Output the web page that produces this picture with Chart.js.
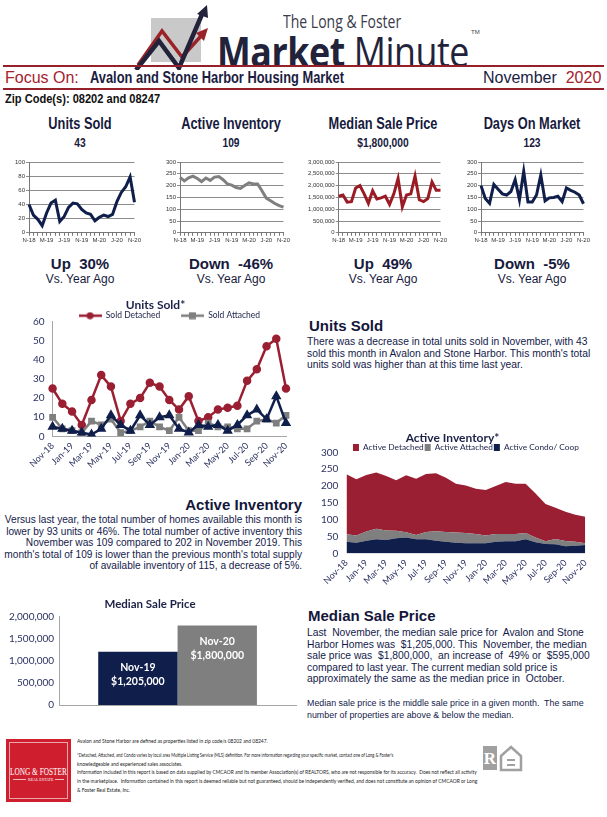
<!DOCTYPE html>
<html>
<head>
<meta charset="utf-8">
<script src="https://cdn.jsdelivr.net/npm/chart.js@4.4.0/dist/chart.umd.min.js"></script>
<style>
  body { margin: 0; background: #fff; }
  #page { position: relative; width: 607px; height: 817px; overflow: hidden; font-family: "Liberation Sans", Arial, sans-serif; color: #171a3d; }
  .a { position: absolute; white-space: nowrap; }
  .fit { display: inline-block; }
  .kpi { width: 150px; text-align: center; font-weight: bold; }
  .kpi .t { font-size: 16px; transform: scaleX(0.8); }
  .kpi .v { font-size: 12.5px; margin-top: 3px; transform: scaleX(0.82); }
  .chg { width: 150px; text-align: center; }
  .chg .t { font-size: 15px; font-weight: bold; }
  .chg .v { font-size: 12px; margin-top: 0px; }
  .h { font-size: 15px; font-weight: bold; color: #14163a; }
  .p { font-size: 10.3px; line-height: 11.5px; color: #141a4a; }
  .rule { position: absolute; left: 3px; width: 601px; height: 2px; background: #96202a; }
  canvas { position: absolute; }
  .foot { position: absolute; left: 77px; font-family: Lato, "Liberation Sans", sans-serif; font-size: 6px; color: #222; white-space: nowrap; transform-origin: left top; }
</style>
</head>
<body>
<div id="page">

  <!-- header logo -->
  <svg class="a" style="left:0;top:0" width="607" height="70">
    <rect x="151" y="18" width="50" height="44" fill="#c9c9c9"/>
    <polyline points="138,65 162,31 182,57 201,36" fill="none" stroke="#9b2226" stroke-width="3.5"/>
    <polygon points="208,28 196,33 204,41" fill="#9b2226"/>
    <polyline points="136,70 159,41 179,68 203,12" fill="none" stroke="#22233a" stroke-width="4.5"/>
    <polygon points="207,5 197,14 208,18" fill="#22233a"/>
  </svg>
  <div class="a fit" data-w="118" style="left:283px;top:8px;font-family:'Open Sans',sans-serif;font-size:19px;color:#3b3b4b;">The Long &amp; Foster</div>
  <div class="a fit" data-w="252" style="left:217px;top:22px;font-family:'Open Sans',sans-serif;font-size:42px;color:#22233a;letter-spacing:-0.5px;"><b style="font-weight:700">Market</b> Minute</div>
  <div class="a" style="left:471px;top:29px;font-size:6px;color:#444;">TM</div>

  <div class="rule" style="top:65px"></div>
  <div class="a" style="left:5px;top:69px;font-size:16px;color:#a5222c;">Focus On:</div>
  <div class="a fit" data-w="254" style="left:90px;top:69px;font-size:16px;font-weight:bold;color:#1b1c3f;">Avalon and Stone Harbor Housing Market</div>
  <div class="a" style="left:483px;top:69px;font-size:16px;color:#1b1c3f;">November&nbsp; <span style="color:#a5222c">2020</span></div>
  <div class="rule" style="top:88px"></div>
  <div class="a fit" data-w="155" style="left:5px;top:92px;font-size:12px;font-weight:bold;color:#111;">Zip Code(s): 08202 and 08247</div>

  <!-- KPI headers -->
  <div class="a kpi" style="left:5px;top:115px"><div class="t">Units Sold</div><div class="v">43</div></div>
  <div class="a kpi" style="left:156px;top:115px"><div class="t">Active Inventory</div><div class="v">109</div></div>
  <div class="a kpi" style="left:308px;top:115px"><div class="t">Median Sale Price</div><div class="v">$1,800,000</div></div>
  <div class="a kpi" style="left:457px;top:115px"><div class="t">Days On Market</div><div class="v">123</div></div>

  <canvas id="s1" width="128" height="93" style="left:14px;top:152px"></canvas>
  <canvas id="s2" width="126" height="93" style="left:165px;top:152px"></canvas>
  <canvas id="s3" width="141" height="93" style="left:307px;top:152px"></canvas>
  <canvas id="s4" width="125" height="93" style="left:466px;top:152px"></canvas>

  <div class="a chg" style="left:5px;top:255px"><div class="t">Up&nbsp; 30%</div><div class="v">Vs. Year Ago</div></div>
  <div class="a chg" style="left:156px;top:255px"><div class="t">Down&nbsp; -46%</div><div class="v">Vs. Year Ago</div></div>
  <div class="a chg" style="left:308px;top:255px"><div class="t">Up&nbsp; 49%</div><div class="v">Vs. Year Ago</div></div>
  <div class="a chg" style="left:457px;top:255px"><div class="t">Down&nbsp; -5%</div><div class="v">Vs. Year Ago</div></div>

  <!-- big charts -->
  <canvas id="unitsChart" width="295" height="176" style="left:5px;top:298px"></canvas>
  <canvas id="invChart" width="284" height="160" style="left:313px;top:431px"></canvas>
  <canvas id="medianChart" width="296" height="119" style="left:4px;top:597px"></canvas>

  <!-- commentary -->
  <div class="a h" style="left:309px;top:317px">Units Sold</div>
  <div class="a p" style="left:307px;top:336px">There was a decrease in total units sold in November, with 43<br>sold this month in Avalon and Stone Harbor. This month's total<br>units sold was higher than at this time last year.</div>

  <div class="a h" style="right:305px;top:496px">Active Inventory</div>
  <div class="a p" style="right:305px;top:514px;text-align:right;font-size:10.15px">Versus last year, the total number of homes available this month is<br>lower by 93 units or 46%. The total number of active inventory this<br>November was 109 compared to 202 in November 2019. This<br>month's total of 109 is lower than the previous month's total supply<br>of available inventory of 115, a decrease of 5%.</div>

  <div class="a h" style="left:308px;top:607px">Median Sale Price</div>
  <div class="a p" style="left:307px;top:627px">Last&nbsp; November, the median sale price for&nbsp; Avalon and Stone<br>Harbor Homes was&nbsp; $1,205,000. This&nbsp; November, the median<br>sale price was&nbsp; $1,800,000,&nbsp; an increase of&nbsp; 49% or&nbsp; $595,000<br>compared to last year. The current median sold price is<br>approximately the same as the median price in&nbsp; October.</div>
  <div class="a" style="left:307px;top:698px;font-size:8.9px;line-height:11.5px;color:#141a4a;">Median sale price is the middle sale price in a given month.&nbsp; The same<br>number of properties are above &amp; below the median.</div>

  <!-- footer -->
  <div class="a" style="left:6px;top:739px;width:65px;height:63px;background:#cf1f2f;"></div>
  <div class="a" style="left:9px;top:742px;width:57px;height:55px;border:1px solid rgba(255,255,255,0.6);"></div>
  <div class="a fit" data-w="57" style="left:10px;top:766px;font-family:'Liberation Serif',serif;font-size:10px;color:#fff;">LONG &amp; FOSTER</div>
  <div class="a" style="left:13px;top:779px;width:51px;height:1px;background:rgba(255,255,255,0.7)"></div>
  <div class="a" style="left:26px;top:777px;font-family:'Liberation Serif',serif;font-size:4px;color:#fff;background:#cf1f2f;padding:0 2px;">REAL ESTATE</div>

  <div class="foot fit" data-w="191" style="top:737px">Avalon and Stone Harbor are defined as properties listed in zip code/s 08202 and 08247.</div>
  <div class="foot fit" data-w="316" style="top:751px">*Detached, Attached, and Condo varies by local area Multiple Listing Service (MLS) definition. For more information regarding your specific market, contact one of Long &amp; Foster's</div>
  <div class="foot fit" data-w="105" style="top:760px">knowledgeable and experienced sales associates.</div>
  <div class="foot fit" data-w="400" style="top:768px">Information included in this report is based on data supplied by CMCAOR and its member Association(s) of REALTORS, who are not responsible for its accuracy.&nbsp; Does not reflect all activity</div>
  <div class="foot fit" data-w="400" style="top:777px">in the marketplace.&nbsp; Information contained in this report is deemed reliable but not guaranteed, should be independently verified, and does not constitute an opinion of CMCAOR or Long</div>
  <div class="foot fit" data-w="53" style="top:786px">&amp; Foster Real Estate, Inc.</div>

  <svg class="a" style="left:482px;top:745px" width="44" height="28">
    <rect x="1" y="1" width="14" height="24" fill="#a0a0a0"/>
    <text x="8" y="19" font-family="Liberation Serif" font-size="17" font-weight="bold" fill="#fff" text-anchor="middle">R</text>
    <polygon points="19,11 29,2 39,11 39,25 19,25" fill="none" stroke="#a0a0a0" stroke-width="2.5"/>
    <rect x="25" y="14" width="8" height="2" fill="#a0a0a0"/>
    <rect x="25" y="19" width="8" height="2" fill="#a0a0a0"/>
  </svg>
</div>

<script>
// ---- data ----
const months = ['Nov-18','Dec-18','Jan-19','Feb-19','Mar-19','Apr-19','May-19','Jun-19','Jul-19','Aug-19','Sep-19','Oct-19',
                'Nov-19','Dec-19','Jan-20','Feb-20','Mar-20','Apr-20','May-20','Jun-20','Jul-20','Aug-20','Sep-20','Oct-20','Nov-20'];
const shortMonths = ['N-18','D-18','J-19','F-19','M-19','A-19','M-19','J-19','J-19','A-19','S-19','O-19',
                     'N-19','D-19','J-20','F-20','M-20','A-20','M-20','J-20','J-20','A-20','S-20','O-20','N-20'];

// small trend charts
const unitsTotal = [40, 25, 19, 10, 28, 42, 46, 16, 23, 36, 42, 41, 33, 28, 26, 17, 22, 25, 23, 26, 44, 57, 65, 79, 43];
const inventoryTotal = [235, 220, 233, 240, 230, 217, 232, 222, 236, 238, 225, 207, 202, 192, 188, 200, 212, 207, 207, 178, 147, 136, 124, 115, 109];
const medianPrice = [1550000, 1600000, 1300000, 1320000, 1900000, 2000000, 1650000, 1250000, 1780000, 1430000, 1480000, 1550000,
                     1205000, 1650000, 2300000, 1100000, 1600000, 1650000, 2400000, 1400000, 1320000, 1450000, 2150000, 1800000, 1800000];
const daysOnMarket = [200, 145, 125, 205, 185, 165, 160, 175, 225, 140, 260, 130, 130, 160, 245, 135, 148, 150, 155, 132, 190, 180, 172, 160, 123];

// units sold by type
const soldDetached = [25, 17, 13, 6, 19, 32, 26, 8, 17, 20, 28, 26, 19, 14, 21, 8, 10, 14, 15, 16, 29, 35, 47, 51, 25];
const soldAttached = [10, 4, 3, 2, 8, 6, 9, 2, 3, 5, 8, 5, 3, 10, 3, 3, 7, 5, 5, 4, 4, 8, 9, 7, 11];
const soldCondo    = [5, 4, 3, 2, 1, 4, 11, 6, 3, 11, 6, 10, 11, 4, 2, 6, 5, 6, 3, 6, 11, 14, 9, 21, 7];

// active inventory by type
const invDetached = [178, 167, 168, 167, 162, 150, 169, 167, 172, 172, 161, 145, 141, 134, 135, 142, 154, 149, 146, 131, 111, 93, 87, 80, 79];
const invAttached = [22, 21, 27, 31, 28, 22, 16, 13, 22, 28, 29, 30, 31, 28, 23, 23, 22, 22, 19, 14, 8, 16, 16, 12, 5];
const invCondo    = [35, 32, 38, 42, 40, 45, 47, 42, 42, 38, 35, 32, 30, 30, 30, 35, 36, 36, 42, 33, 28, 27, 21, 23, 25];

// median sale price comparison
const medianLabels = ['Nov-19', 'Nov-20'];
const medianValues = [1205000, 1800000];

const RED = '#9b1f32', GRAY = '#7f7f7f', NAVY = '#0f1e4a';
const axisColor = '#a6a6a6';
const fmtNum = v => v.toLocaleString('en-US');

// stretch text blocks to their measured widths in the reference
document.querySelectorAll('.fit[data-w]').forEach(el => {
  const w = parseFloat(el.dataset.w);
  el.style.transformOrigin = 'left top';
  el.style.transform = 'scaleX(' + (w / el.scrollWidth) + ')';
});

function smallLine(id, data, color, max, step, fmt) {
  new Chart(document.getElementById(id), {
    type: 'line',
    data: { labels: shortMonths, datasets: [{ data, borderColor: color, borderWidth: 3, pointRadius: 0, tension: 0 }] },
    options: {
      responsive: false, animation: false,
      layout: { padding: { top: 10, right: 4 } },
      plugins: { legend: { display: false }, tooltip: { enabled: false } },
      scales: {
        x: {
          grid: { drawOnChartArea: false, tickLength: 3, color: '#777' },
          border: { color: '#777' },
          ticks: { font: { size: 6, family: 'Liberation Sans' }, color: '#333', autoSkip: false, maxRotation: 0, padding: 1,
                   callback: (v, i) => i % 4 === 0 ? shortMonths[i] : '' }
        },
        y: {
          min: 0, max: max,
          grid: { color: '#8c8c8c', tickLength: 3 },
          border: { color: '#777' },
          ticks: { stepSize: step, font: { size: 6, family: 'Liberation Sans' }, color: '#333', padding: 1, callback: fmt }
        }
      }
    }
  });
}
smallLine('s1', unitsTotal, NAVY, 100, 20, v => v);
smallLine('s2', inventoryTotal, GRAY, 300, 50, v => v);
smallLine('s3', medianPrice, '#9b1b24', 3000000, 500000, v => fmtNum(v));
smallLine('s4', daysOnMarket, NAVY, 300, 50, v => v);

// legend sample: line with marker in the middle
function lineMarker(color, shape) {
  const c = document.createElement('canvas');
  c.width = 23; c.height = 8;
  const g = c.getContext('2d');
  g.strokeStyle = color; g.fillStyle = color; g.lineWidth = 2.5;
  g.beginPath(); g.moveTo(0, 4); g.lineTo(23, 4); g.stroke();
  if (shape === 'circle') { g.beginPath(); g.arc(11.5, 4, 3.5, 0, Math.PI * 2); g.fill(); }
  else { g.fillRect(8, 0.5, 7, 7); }
  return c;
}
const legendMarks = [lineMarker(RED, 'circle'), lineMarker(GRAY, 'rect')];

const bigFont = { family: 'Lato, "Liberation Sans", sans-serif' };
const noGrid = { display: false, drawTicks: false };

new Chart(document.getElementById('unitsChart'), {
  type: 'line',
  data: {
    labels: months,
    datasets: [
      { label: 'Sold Detached', data: soldDetached, borderColor: RED, backgroundColor: RED, pointStyle: 'circle', pointRadius: 3, borderWidth: 2.5, order: 3 },
      { label: 'Sold Attached', data: soldAttached, borderColor: GRAY, backgroundColor: GRAY, pointStyle: 'rect', pointRadius: 3, borderWidth: 2.5, order: 2 },
      { label: 'Sold Condo/ Coop', data: soldCondo, borderColor: NAVY, backgroundColor: NAVY, pointStyle: 'triangle', pointRadius: 3.5, borderWidth: 2.5, order: 1 }
    ]
  },
  options: {
    responsive: false, animation: false,
    layout: { padding: { left: 20, right: 14, top: 0 } },
    plugins: {
      tooltip: { enabled: false },
      title: { display: true, text: 'Units Sold*', color: '#1c2147', font: { ...bigFont, size: 12, weight: 'bold' }, padding: { top: 0, bottom: -2 } },
      legend: {
        fullSize: false, maxHeight: 11,
        labels: {
          usePointStyle: true, pointStyleWidth: 23, padding: 1, color: '#1c2147', font: { ...bigFont, size: 8.5 },
          filter: item => item.datasetIndex < 2,
          sort: (a, b) => a.datasetIndex - b.datasetIndex,
          generateLabels: chart => Chart.defaults.plugins.legend.labels.generateLabels(chart).map(l => ({
            ...l,
            text: l.datasetIndex === 0 ? l.text + '\u00a0'.repeat(9) : l.text,
            pointStyle: legendMarks[l.datasetIndex] || l.pointStyle
          }))
        }
      }
    },
    scales: {
      x: {
        grid: noGrid, border: { color: axisColor },
        ticks: { autoSkip: false, maxRotation: 45, minRotation: 45, color: '#2a3160', font: { ...bigFont, size: 9 }, padding: 4,
                 callback: (v, i) => i % 2 === 0 ? months[i] : '' }
      },
      y: {
        min: 0, max: 60, grid: noGrid, border: { color: axisColor },
        ticks: { stepSize: 10, color: '#2a3160', font: { ...bigFont, size: 10 }, padding: 8 }
      }
    }
  }
});

new Chart(document.getElementById('invChart'), {
  type: 'line',
  data: {
    labels: months,
    datasets: [
      { label: 'Active Condo/ Coop', data: invCondo, backgroundColor: NAVY, borderWidth: 0, pointRadius: 0, fill: 'origin' },
      { label: 'Active Attached', data: invAttached, backgroundColor: GRAY, borderWidth: 0, pointRadius: 0, fill: '-1' },
      { label: 'Active Detached', data: invDetached, backgroundColor: RED, borderWidth: 0, pointRadius: 0, fill: '-1' }
    ]
  },
  options: {
    responsive: false, animation: false,
    layout: { padding: { left: 0, right: 5 } },
    plugins: {
      tooltip: { enabled: false },
      title: { display: true, text: 'Active Inventory*', color: '#1c2147', font: { ...bigFont, size: 12, weight: 'bold' }, padding: { top: 0, bottom: -3 } },
      legend: {
        reverse: true, fullSize: false, maxHeight: 10,
        labels: { boxWidth: 6, boxHeight: 7, padding: 1, color: '#1c2147', font: { ...bigFont, size: 8.3 } }
      }
    },
    scales: {
      x: {
        grid: noGrid, border: { display: false },
        ticks: { autoSkip: false, maxRotation: 45, minRotation: 45, color: '#2a3160', font: { ...bigFont, size: 9 }, padding: 4,
                 callback: (v, i) => i % 2 === 0 ? months[i] : '' }
      },
      y: {
        stacked: true, min: 0, max: 300, grid: noGrid, border: { display: false },
        ticks: { stepSize: 50, color: '#2a3160', font: { ...bigFont, size: 10 }, padding: 8 }
      }
    }
  }
});

// white labels inside the median bars
const barLabels = {
  id: 'barLabels',
  afterDatasetsDraw(chart) {
    const ctx = chart.ctx;
    ctx.save();
    ctx.fillStyle = '#fff';
    ctx.textAlign = 'center';
    ctx.font = 'bold 10.5px Lato, "Liberation Sans", sans-serif';
    chart.data.datasets.forEach((ds, i) => {
      const bar = chart.getDatasetMeta(i).data[0];
      ctx.fillText(ds.label, bar.x, bar.y + 19);
      ctx.fillText('$' + fmtNum(ds.data[0]), bar.x, bar.y + 33);
    });
    ctx.restore();
  }
};

new Chart(document.getElementById('medianChart'), {
  type: 'bar',
  data: {
    labels: [''],
    datasets: medianLabels.map((lab, i) => ({
      label: lab, data: [medianValues[i]], backgroundColor: [NAVY, GRAY][i],
      barPercentage: 1, categoryPercentage: 0.67
    }))
  },
  options: {
    responsive: false, animation: false,
    layout: { padding: { right: 4, bottom: 2 } },
    plugins: {
      tooltip: { enabled: false }, legend: { display: false },
      title: { display: true, text: 'Median Sale Price', color: '#1c2147', font: { ...bigFont, size: 11.5, weight: 'bold' }, padding: { top: 0, bottom: 6 } }
    },
    scales: {
      x: { grid: noGrid, border: { color: axisColor }, ticks: { display: false } },
      y: {
        min: 0, max: 2000000, grid: noGrid, border: { color: axisColor },
        ticks: { stepSize: 500000, color: '#2a3160', font: { ...bigFont, size: 10 }, padding: 5, callback: v => fmtNum(v) }
      }
    }
  },
  plugins: [barLabels]
});
</script>
</body>
</html>
